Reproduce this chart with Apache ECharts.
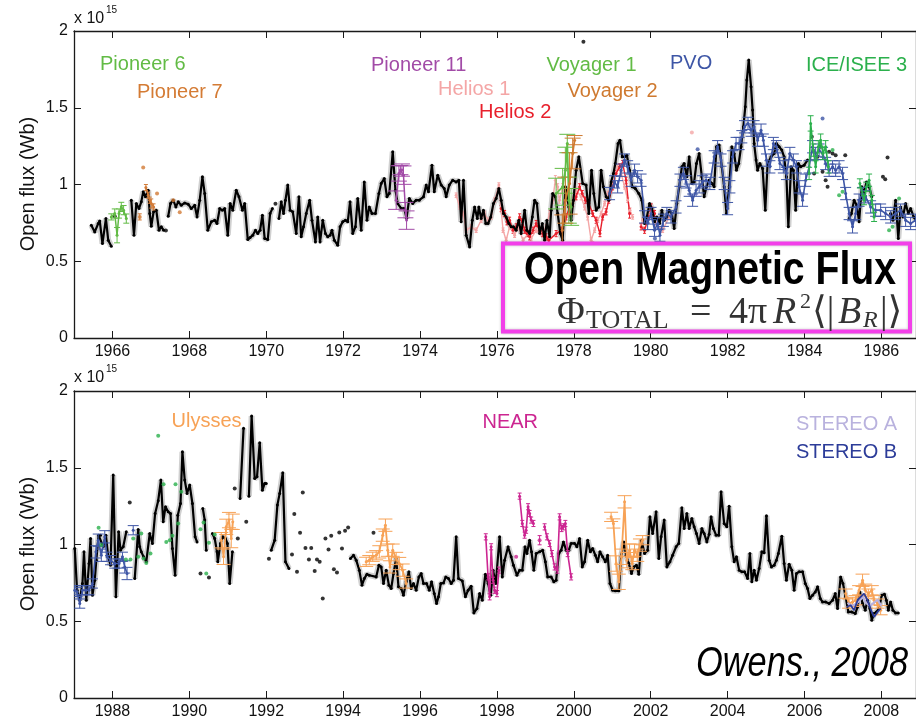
<!DOCTYPE html>
<html><head><meta charset="utf-8">
<script src="https://cdn.jsdelivr.net/npm/echarts@6/dist/echarts.min.js"></script>
<style>html,body{margin:0;padding:0;background:#fff}#c{width:916px;height:720px}</style>
</head><body><div id="c"></div>
<script>
// ---------- tick labels ----------
const xTicksTop = [1966,1968,1970,1972,1974,1976,1978,1980,1982,1984,1986];
const xTicksBottom = [1988,1990,1992,1994,1996,1998,2000,2002,2004,2006,2008];
const yTickValues = [0,0.5,1,1.5,2];

// ---------- top panel (1965-1987), units of 1e15 Wb ----------
const blackTop = [
[1965.45,0.735],[1965.54,0.691],[1965.63,0.746],[1965.67,0.763],[1965.74,0.615],[1965.83,0.778],[1965.89,0.637],[1965.97,0.598],
[1966.2,null],
[1966.49,0.898],[1966.56,0.67],[1966.62,0.876],[1966.69,0.843],[1966.75,0.887],[1966.80,0.952],[1966.86,0.92],[1966.93,0.963],[1966.97,0.811],[1967.01,0.728],[1967.07,0.822],[1967.14,0.833],[1967.21,0.702],[1967.27,0.724],[1967.33,0.702],
[1967.40,null],
[1967.45,0.793],[1967.51,0.876],[1967.58,0.898],[1967.65,0.854],[1967.71,0.887],[1967.79,0.865],[1967.88,0.88],[1967.97,0.872],[1968.05,0.843],[1968.14,0.865],[1968.20,0.789],[1968.27,0.898],[1968.34,1.05],[1968.40,0.941],[1968.48,0.702],[1968.57,0.757],[1968.66,0.767],[1968.72,0.746],[1968.79,0.843],[1968.86,0.833],[1968.92,0.843],[1969.00,0.67],[1969.06,0.876],[1969.13,0.833],[1969.22,0.963],[1969.29,0.92],[1969.38,0.833],[1969.44,0.876],[1969.52,0.641],[1969.58,0.654],[1969.65,0.67],[1969.72,0.702],[1969.78,0.68],[1969.84,0.702],[1969.90,0.8],[1969.96,0.648],[1970.04,0.641],[1970.10,0.811],[1970.16,0.843],
[1970.22,null],
[1970.33,0.778],[1970.39,0.887],[1970.45,0.811],[1970.50,0.898],[1970.56,0.996],[1970.62,0.833],[1970.69,0.822],[1970.78,0.68],[1970.85,0.92],[1970.91,0.659],[1970.97,0.724],[1971.04,0.811],[1971.13,0.898],[1971.19,0.767],[1971.28,0.626],[1971.34,0.789],[1971.40,0.626],[1971.47,0.767],[1971.54,0.68],[1971.60,0.659],[1971.66,0.67],[1971.71,0.702],[1971.77,0.637],[1971.86,0.604],[1971.92,0.724],[1971.99,0.757],[1972.06,0.767],[1972.12,0.757],[1972.18,0.887],[1972.25,0.68],[1972.32,0.724],[1972.38,0.909],[1972.47,0.702],[1972.55,1.017],[1972.62,0.767],[1972.68,0.854],[1972.75,0.811],[1972.84,0.811],[1972.93,0.941],[1972.99,1.007],[1973.07,1.039],[1973.14,0.92],[1973.20,0.941],[1973.29,1.213],
[1973.36,0.963],[1973.42,0.876],[1973.51,0.844],[1973.59,0.844],[1973.65,0.78],[1973.72,0.909],[1973.81,0.877],[1973.90,0.898],[1973.98,0.898],[1974.09,0.92],[1974.16,0.996],[1974.22,0.952],[1974.31,1.126],[1974.37,0.952],[1974.46,1.061],[1974.55,0.996],[1974.63,0.974],[1974.68,0.92],[1974.76,0.996],[1974.85,1.028],[1974.94,1.017],[1975.01,1.028],
[1975.07,0.757],[1975.13,1.028],[1975.20,0.67],[1975.29,0.593],[1975.36,0.767],[1975.42,0.854],[1975.49,0.778],[1975.53,0.854],[1975.59,0.778],[1975.65,0.833],[1975.71,0.746],[1975.77,0.746],[1975.84,0.789],[1975.91,0.876],[1975.98,0.909],[1976.05,0.974],[1976.11,0.898],[1976.17,0.811],[1976.24,0.789],[1976.31,0.746],[1976.37,0.724],[1976.43,0.724],[1976.50,0.702],[1976.57,0.767],[1976.63,0.68],[1976.72,0.833],[1976.78,0.702],[1976.85,0.68],[1976.92,0.789],[1976.98,0.898],[1977.04,0.876],[1977.11,0.68],[1977.18,0.746],[1977.24,0.637],[1977.30,0.767],[1977.37,0.659],[1977.41,0.833],[1977.45,0.941],[1977.52,0.92],[1977.58,0.811],[1977.65,0.68],[1977.71,0.637],[1977.78,0.985],[1977.87,0.854],[1977.93,0.767],[1977.99,0.898],[1978.06,1.093],[1978.13,1.18],[1978.23,1.007],[1978.32,0.996],[1978.39,0.811],[1978.46,1.093],[1978.52,0.941],[1978.58,0.833],[1978.65,0.854],[1978.71,1.093],[1978.77,0.985],[1978.84,0.92],[1978.91,0.898],[1978.97,1.017],[1979.03,1.072],[1979.08,1.137],[1979.15,1.267],[1979.20,1.289],[1979.26,1.18],[1979.32,1.18],[1979.38,1.191],[1979.45,1.093],[1979.52,0.985],[1979.60,0.974],[1979.69,0.941],[1979.77,0.898],[1979.84,0.746],[1979.90,0.789],[1979.97,0.876],[1980.03,0.843],[1980.10,0.757],[1980.16,0.789],[1980.23,0.746],[1980.29,0.833],[1980.35,0.767],[1980.42,0.789],[1980.48,0.833],[1980.55,0.811],[1980.61,0.713],[1980.68,0.876],[1980.74,0.985],[1980.81,1.115],[1980.87,1.137],[1980.94,1.05],[1981.00,1.18],[1981.07,1.007],[1981.13,1.017],[1981.19,1.137],[1981.26,1.202],[1981.33,1.05],[1981.39,0.92],[1981.45,0.985],[1981.52,1.028],[1981.59,1.007],[1981.65,0.985],[1981.71,1.246],[1981.78,1.257],[1981.85,1.115],[1981.91,0.985],[1981.97,0.811],[1982.04,0.985],[1982.11,1.246],[1982.17,1.202],[1982.23,1.093],[1982.29,1.137],[1982.35,1.246],[1982.41,1.376],[1982.46,1.507],[1982.50,1.68],[1982.55,1.811],[1982.61,1.637],[1982.65,1.485],[1982.69,1.267],[1982.74,1.159],[1982.78,1.093],[1982.84,1.137],[1982.91,1.104],[1982.98,0.833],[1983.04,1.137],[1983.13,1.18],[1983.21,1.202],[1983.27,1.267],[1983.34,1.246],[1983.41,1.224],[1983.47,1.18],[1983.53,1.05],[1983.58,0.724],[1983.65,1.115],[1983.71,1.093],[1983.77,0.833],[1983.84,1.137],[1983.90,1.115],[1983.99,1.126],[1984.08,1.159],
[1984.12,null],
[1985.16,0.778],[1985.22,0.811],[1985.29,0.898],[1985.36,0.865],[1985.42,0.757],[1985.49,0.985],[1985.55,0.941],[1985.61,1.017],[1985.68,0.985],[1985.75,0.92],
[1985.9,null],
[1986.24,0.811],[1986.30,0.767],[1986.37,0.898],[1986.44,0.648],[1986.50,0.854],[1986.56,0.789],[1986.63,0.876],[1986.70,0.811],[1986.76,0.843],[1986.84,0.789],[1986.89,0.767]
];
const blackDotsTop = [
[1966.06,0.793],[1967.39,0.70],[1970.24,0.875],[1978.25,1.93],[1984.19,1.311],[1984.25,1.072],[1984.34,1.18],[1984.42,1.246],[1984.47,1.083],[1984.55,1.028],[1984.60,0.985],[1984.64,1.213],[1984.73,1.202],[1984.81,1.191],[1985.06,1.191],[1986.04,1.05],[1986.10,1.035],[1986.16,1.176]
];
// [year, value, error]
const pioneer6 = [[1965.97,0.789,0.02],[1966.06,0.811,0.03],[1966.12,0.67,0.05],[1966.17,0.811,0.03],[1966.23,0.854,0.03],[1966.29,0.833,0.03],[1966.36,0.778,0.03]];
const pioneer7Line = [[1966.87,0.98,0.02],[1966.93,0.93,0.02],[1966.97,0.898,0.02],[1967.01,0.876,0.03],[1967.07,0.854,0.02]];
const pioneer7Dots = [[1966.71,0.789,0.02],[1966.80,1.111,0],[1967.16,0.941,0],[1967.58,0.898,0],[1967.75,0.82,0]];
const pioneer11 = [[1973.38,0.898,0.06],[1973.45,1.072,0.05],[1973.49,1.094,0.03],[1973.53,1.094,0.04],[1973.57,1.061,0.06],[1973.62,0.833,0.05],[1973.65,0.768,0.06]];
const helios1 = [[1974.94,0.93,0.015],[1975.03,0.854,0.015],[1975.12,0.811,0.015],[1975.20,0.702,0.015],[1975.33,0.724,0.015],[1975.46,0.702,0.015],[1975.59,0.767,0.015],[1975.68,0.811,0.015],[1975.77,0.767,0.015],[1975.85,0.789,0.015],[1975.94,0.898,0.015],[1976.05,0.996,0.015],[1976.16,0.702,0.015],[1976.24,0.637,0.015],[1976.33,0.724,0.015],[1976.46,0.67,0.015],[1976.55,0.724,0.015],[1976.68,0.637,0.015],[1976.81,0.68,0.015],[1976.89,0.648,0.015],[1977.02,0.702,0.015],[1977.15,0.68,0.015],[1977.28,0.724,0.015],[1977.37,0.811,0.02],[1977.45,0.898,0.02],[1977.52,1.028,0.03],[1977.58,0.985,0.02],[1977.63,0.898,0.02],[1977.71,0.985,0.02],[1977.80,0.898,0.02],[1977.89,0.811,0.02],[1977.97,0.898,0.02],[1978.06,0.963,0.02],[1978.19,0.92,0.02],[1978.28,0.854,0.02],[1978.36,0.789,0.02],[1978.45,0.637,0.015],[1978.54,0.702,0.015],[1978.62,0.767,0.015],[1978.71,0.811,0.015],[1978.80,0.876,0.015],[1978.88,0.941,0.015],[1978.97,0.985,0.015],[1979.06,1.05,0.015],[1979.14,1.115,0.015],[1979.23,1.072,0.015],[1979.32,0.985,0.015],[1979.40,0.898,0.015],[1979.46,0.833,0.015],[1979.53,0.789,0.015],
[1979.65,null,0],
[1979.79,0.767,0.015],[1979.97,0.811,0.015],[1980.14,0.746,0.015],[1980.31,0.702,0.015],[1980.48,0.789,0.015]];
const helios1Dots = [[1981.07,1.339,0],[1978.49,0.62,0]];
const helios2 = [[1976.11,0.843,0.02],[1976.20,0.811,0.02],[1976.26,0.757,0.02],[1976.33,0.767,0.02],[1976.42,0.702,0.02],[1976.50,0.724,0.02],[1976.59,0.789,0.02],[1976.66,0.757,0.02],[1976.72,0.702,0.02],[1976.78,0.68,0.02],[1976.85,0.659,0.02],[1976.94,0.702,0.02],[1977.02,0.746,0.02],[1977.11,0.702,0.02],[1977.19,0.68,0.02],[1977.28,0.659,0.02],[1977.35,0.637,0.02],[1977.54,0.68,0.02],[1977.67,0.702,0.02],[1977.80,0.789,0.02],[1977.89,0.854,0.02],[1977.97,0.876,0.02],[1978.06,0.92,0.02],[1978.15,0.985,0.02],[1978.22,0.941,0.02],[1978.30,0.898,0.02],[1978.39,0.876,0.02],[1978.49,0.811,0.02],[1978.58,0.767,0.02],[1978.68,0.68,0.02],[1978.75,0.789,0.02],[1978.84,0.822,0.02],[1978.91,0.898,0.02],[1979.01,0.985,0.02],[1979.10,1.072,0.02],[1979.19,1.115,0.02],[1979.27,1.137,0.02],[1979.36,1.028,0.02],[1979.45,0.811,0.03],
[1979.6,null,0],
[1979.75,0.724,0.02],[1979.84,0.702,0.02],[1979.92,0.767,0.02],[1980.01,0.854,0.02],[1980.10,0.811,0.02]];
const voyager1 = [[1977.54,0.941,0.1],[1977.71,0.985,0.12],[1977.78,1.093,0.15],[1977.83,1.267,0.06],[1977.87,0.898,0.15],[1977.93,0.854,0.12]];
const voyager2 = [[1977.70,0.702,0.1],[1977.78,0.898,0.15],[1977.89,1.007,0.2],[1977.97,1.202,0.1],[1978.02,1.289,0.03]];
const pvoTop = [[1978.93,0.941,0.04],[1979.06,1.017,0.04],[1979.14,0.985,0.04],[1979.23,1.093,0.04],[1979.32,1.159,0.04],[1979.40,1.115,0.04],[1979.49,1.028,0.04],[1979.58,1.093,0.04],[1979.66,1.05,0.04],[1979.75,1.028,0.04],[1979.84,0.789,0.04],[1979.92,0.746,0.04],[1980.01,0.811,0.04],[1980.10,0.702,0.04],[1980.18,0.746,0.04],[1980.24,0.67,0.04],[1980.33,0.767,0.04],[1980.42,0.811,0.04],[1980.53,0.789,0.04],[1980.66,0.854,0.04],[1980.76,1.028,0.04],[1980.85,1.072,0.04],[1980.92,1.017,0.04],[1981.00,0.963,0.04],[1981.09,0.898,0.04],[1981.18,0.963,0.04],[1981.26,0.985,0.04],[1981.35,1.017,0.04],[1981.44,1.028,0.04],[1981.54,1.007,0.04],[1981.65,1.18,0.04],[1981.74,1.246,0.04],[1981.83,1.159,0.04],[1981.91,1.007,0.04],[1982.00,0.843,0.04],[1982.06,0.985,0.04],[1982.13,1.18,0.04],[1982.22,1.267,0.04],[1982.30,1.267,0.04],[1982.37,1.311,0.04],[1982.44,1.376,0.04],[1982.53,1.398,0.04],[1982.61,1.354,0.04],[1982.69,1.376,0.04],[1982.78,1.289,0.04],[1982.87,1.354,0.04],[1982.93,1.289,0.04],[1983.01,1.159,0.04],[1983.10,1.115,0.04],[1983.19,1.267,0.04],[1983.27,1.246,0.04],[1983.36,1.137,0.04],[1983.45,1.115,0.04],[1983.53,1.072,0.04],[1983.62,1.202,0.04],[1983.71,1.159,0.04],[1983.79,1.115,0.04],[1983.86,0.985,0.04],[1983.95,0.898,0.04],[1984.03,1.028,0.04],[1984.12,1.115,0.04],[1984.21,1.246,0.04],[1984.29,1.202,0.04],[1984.38,1.224,0.04],[1984.47,1.202,0.04],[1984.55,1.137,0.04],[1984.64,1.093,0.04],[1984.73,1.115,0.04],[1984.81,1.093,0.04],[1984.90,1.115,0.04],[1984.99,1.072,0.04],[1985.07,0.941,0.04],[1985.16,0.811,0.04],[1985.25,0.724,0.04],[1985.33,0.811,0.04],[1985.42,0.898,0.04],[1985.51,0.941,0.04],[1985.59,0.92,0.04],[1985.72,0.854,0.04],[1985.85,0.833,0.04],[1985.98,0.833,0.04],[1986.11,0.811,0.04],[1986.24,0.789,0.04],[1986.37,0.811,0.04],[1986.50,0.833,0.04],[1986.63,0.767,0.04],[1986.76,0.746,0.04],[1986.89,0.767,0.04]];
const pvoDotsTop = [[1981.22,1.23,0],[1984.47,1.43,0],[1980.11,0.648,0]];
const iceTop = [[1984.12,1.072,0.04],[1984.16,1.398,0.05],[1984.23,1.224,0.04],[1984.29,1.115,0.04],[1984.36,1.246,0.04],[1984.42,1.289,0.04],[1984.48,1.202,0.04],[1984.55,1.246,0.04],[1984.62,1.115,0.04],
[1984.7,null,0],
[1985.44,1.007,0.03],[1985.55,0.898,0.03],[1985.61,0.985,0.03],[1985.68,1.028,0.04],[1985.75,0.898,0.03],[1985.81,0.789,0.03]];
const iceDotsTop = [[1984.73,1.224],[1984.90,0.93],[1984.99,0.952],[1986.20,0.702],[1986.29,0.724],[1986.46,0.909]];

// ---------- bottom panel (1987-2009) ----------
const blackBottom = [
[1987.02,0.974],[1987.08,0.702],[1987.15,0.637],[1987.22,0.746],[1987.26,0.952],[1987.32,0.637],[1987.39,0.876],[1987.43,1.039],[1987.48,0.67],[1987.54,0.767],[1987.58,0.898],[1987.64,1.061],[1987.69,1.061],[1987.76,0.985],[1987.83,1.061],[1987.89,0.92],[1987.95,0.865],[1988.02,1.452],[1988.09,0.659],[1988.16,1.083],[1988.21,0.963],[1988.28,0.985],[1988.36,1.083],
[1988.45,null],
[1988.58,0.778],[1988.67,1.098],[1988.71,0.985],[1988.75,0.952],[1988.81,0.92],[1988.88,0.887],[1988.97,1.072],[1989.04,1.007],[1989.11,1.202],[1989.19,1.285],[1989.26,1.42],[1989.32,1.148],[1989.38,1.246],[1989.45,1.213],[1989.51,1.202],[1989.56,0.974],[1989.63,0.8],[1989.70,1.191],[1989.77,1.267],[1989.82,1.604],[1989.88,1.42],[1989.94,1.333],[1990.01,1.387],[1990.08,1.267],[1990.15,1.05],[1990.20,1.017],
[1990.27,null],
[1990.35,1.235],[1990.40,1.159],[1990.44,0.963],
[1990.5,null],
[1990.60,1.072],[1990.66,1.039],[1990.72,0.952],[1990.74,0.887],[1990.81,1.007],[1990.87,1.05],[1990.94,1.039],[1990.99,1.007],[1991.05,0.746],[1991.12,0.952],
[1991.2,null],
[1991.32,1.3],[1991.41,1.757],
[1991.48,null],
[1991.55,1.315],[1991.62,1.837],[1991.70,1.43],[1991.76,1.441],[1991.83,1.663],[1991.90,1.354],[1991.96,1.398],[1992.00,1.398],
[1992.07,null],
[1992.13,0.963],[1992.22,1.028],[1992.29,1.257],[1992.35,1.333],[1992.43,1.467],[1992.50,0.887],[1992.59,0.843],
[1992.63,null],
[1994.19,0.909],[1994.27,0.93],[1994.34,0.898],[1994.42,0.833],[1994.49,0.735],[1994.55,0.778],[1994.62,0.807],[1994.68,0.8],[1994.86,0.789],[1994.93,0.865],[1994.99,0.854],[1995.05,0.746],[1995.12,0.833],[1995.19,0.735],[1995.25,0.713],[1995.31,0.811],[1995.38,0.909],[1995.44,0.724],[1995.51,0.713],[1995.57,0.67],[1995.64,0.757],[1995.71,0.822],[1995.77,0.713],[1995.83,0.746],[1995.90,0.702],[1995.97,0.789],[1996.03,0.811],[1996.09,0.746],[1996.17,0.746],[1996.24,0.702],[1996.30,0.757],[1996.37,0.68],[1996.43,0.615],[1996.48,0.659],[1996.54,0.746],[1996.61,0.75],[1996.67,0.789],[1996.74,0.778],[1996.81,0.746],[1996.87,0.767],[1996.94,1.05],[1997.00,0.778],
[1997.10,0.763],[1997.18,0.659],[1997.25,0.702],[1997.33,0.728],[1997.40,0.554],[1997.48,0.583],[1997.55,0.68],[1997.62,0.637],[1997.70,0.807],[1997.77,0.746],[1997.84,0.67],[1997.90,0.833],[1997.97,0.746],[1998.07,1.05],[1998.14,0.789],[1998.20,0.898],[1998.29,0.985],[1998.37,0.92],[1998.43,0.865],[1998.52,0.8],[1998.59,0.833],[1998.66,0.833],[1998.73,0.985],[1998.78,0.941],[1998.85,1.028],[1998.90,0.952],[1998.96,0.833],[1999.02,0.941],[1999.11,0.952],[1999.19,0.963],[1999.26,0.887],[1999.32,0.789],[1999.41,0.789],[1999.48,0.757],[1999.54,0.767],[1999.61,0.941],[1999.67,0.963],[1999.73,1.017],[1999.80,0.963],[1999.87,0.963],[1999.93,1.007],[2000.02,1.007],[2000.08,0.985],[2000.15,1.039],[2000.22,0.854],[2000.28,0.887],[2000.36,1.028],[2000.43,0.952],[2000.49,0.974],[2000.56,0.93],[2000.62,0.887],[2000.68,0.952],[2000.75,0.92],[2000.82,0.887],[2000.88,0.93],[2000.94,0.746],[2001.01,0.702],[2001.08,0.698],[2001.17,0.698],[2001.23,0.92],[2001.30,1.017],[2001.36,0.93],[2001.43,0.876],[2001.50,0.811],[2001.56,0.854],[2001.63,0.865],[2001.69,0.807],[2001.76,1.028],[2001.84,0.941],[2001.92,0.963],[2001.98,1.18],[2002.05,1.072],[2002.14,1.213],[2002.21,0.909],[2002.27,1.05],[2002.35,1.159],[2002.42,0.854],[2002.50,0.887],[2002.57,0.93],[2002.66,0.985],[2002.73,1.007],[2002.81,1.239],[2002.87,1.104],[2002.94,1.202],[2003.00,1.104],[2003.07,1.17],[2003.13,1.115],[2003.19,1.072],[2003.26,1.007],[2003.33,1.104],[2003.39,1.072],[2003.46,1.017],[2003.52,1.067],[2003.57,1.18],[2003.63,1.104],[2003.70,1.061],[2003.77,1.061],[2003.83,1.343],[2003.91,1.137],[2003.98,1.115],[2004.04,1.25],[2004.11,0.985],[2004.17,0.887],[2004.23,0.92],[2004.30,0.833],[2004.37,0.822],[2004.44,0.822],[2004.52,0.778],[2004.58,0.941],[2004.63,0.757],[2004.69,0.833],[2004.75,0.767],[2004.82,0.843],[2004.89,0.952],[2004.95,0.946],[2005.01,1.187],[2005.08,0.898],[2005.14,0.854],[2005.21,0.865],[2005.27,0.898],[2005.32,0.941],[2005.41,1.054],[2005.47,0.876],[2005.53,0.767],[2005.60,0.872],[2005.67,0.833],[2005.73,0.702],[2005.79,0.811],[2005.86,0.822],[2005.95,0.822],[2006.02,0.746],[2006.08,0.713],[2006.14,0.648],[2006.21,0.67],[2006.28,0.691],[2006.34,0.724],[2006.41,0.648],[2006.47,0.626],[2006.55,0.626],[2006.64,0.615],[2006.73,0.637],[2006.80,0.68],[2006.86,0.583],[2006.94,0.789],[2007.00,0.746],[2007.07,0.659],[2007.14,0.561],[2007.23,0.561],[2007.32,0.55],[2007.38,0.593],[2007.44,0.691],[2007.51,0.615],[2007.58,0.572],[2007.64,0.637],[2007.70,0.583],[2007.75,0.507],[2007.81,0.55],[2007.87,0.561],[2007.94,0.583],[2008.01,0.67],[2008.08,0.676],[2008.13,0.637],[2008.18,0.572],[2008.24,0.626],[2008.30,0.572],[2008.37,0.554],[2008.44,0.554]
];
const blackDotsBottom = [
[1988.45,1.274],[1990.29,0.811],[1990.51,0.785],[1991.18,1.365],[1991.26,1.039],[1991.48,1.148],[1992.07,0.907],[1992.67,0.935],[1992.73,1.198],[1992.80,0.822],[1992.88,1.076],[1992.95,1.339],[1993.02,0.978],[1993.11,0.902],[1993.17,0.978],[1993.26,0.828],[1993.32,0.902],[1993.39,0.887],[1993.47,0.648],[1993.54,1.039],[1993.62,0.967],[1993.69,1.057],[1993.76,0.839],[1993.84,0.817],[1993.90,1.078],[1993.97,0.974],[1994.05,1.089],[1994.13,1.111],[1994.79,1.076]
];
const pvoBottom = [[1987.02,0.702,0.03],[1987.08,0.691,0.03],[1987.15,0.615,0.03],[1987.22,0.702,0.03],[1987.31,0.702,0.03],[1987.39,0.702,0.03],[1987.48,0.746,0.03],[1987.57,0.952,0.04],[1987.63,1.028,0.04],[1987.71,0.93,0.04],[1987.80,1.05,0.04],[1987.86,0.92,0.03],[1987.95,0.898,0.03],[1988.06,0.876,0.03],[1988.17,0.876,0.03],[1988.26,0.92,0.03],[1988.32,0.854,0.04],[1988.38,0.811,0.04],
[1988.45,null,0],
[1988.54,1.093,0.03]];
const iceDotsBottom = [[1987.64,1.109],[1987.71,0.996],[1988.35,0.902],[1988.47,0.902],[1988.54,1.039],[1988.67,0.92],[1988.75,1.072],[1988.81,0.909],[1988.88,0.88],[1988.99,0.941],[1989.19,1.709],[1989.33,1.393],[1989.40,1.017],[1989.49,1.028],[1989.56,1.057],[1989.64,1.393],[1989.71,1.137],[1989.79,1.343],[1990.29,1.1],[1990.37,1.143],[1990.44,0.811],[1990.51,1.011],[1990.66,1.065]];
const ulysses = [[1990.83,1.028,0.05],[1990.89,0.92,0.05],[1990.96,1.115,0.05],[1991.03,1.159,0.05],[1991.09,1.039,0.06],[1991.13,1.148,0.05],
[1992.0,null,0],
[1994.60,0.887,0.03],[1994.68,0.898,0.03],[1994.77,0.92,0.03],[1994.86,0.93,0.03],[1994.94,0.952,0.04],[1995.03,1.061,0.04],[1995.10,1.126,0.04],[1995.16,0.963,0.04],[1995.22,0.854,0.04],[1995.29,0.963,0.04],[1995.38,0.909,0.04],[1995.46,0.876,0.04],[1995.55,0.833,0.04],[1995.64,0.746,0.03],
[1998.0,null,0],
[2000.97,1.18,0.03],[2001.03,1.137,0.03],[2001.10,0.876,0.05],[2001.17,0.757,0.05],[2001.24,0.92,0.05],[2001.32,1.278,0.04],[2001.38,0.898,0.05],[2001.45,0.963,0.04],[2001.52,0.876,0.04],[2001.58,0.963,0.04],[2001.65,0.93,0.04],[2001.72,0.996,0.04],[2001.79,1.028,0.03],
[2004.0,null,0],
[2007.07,0.68,0.03],[2007.16,0.615,0.03],[2007.25,0.626,0.03],[2007.33,0.637,0.03],[2007.42,0.702,0.03],[2007.51,0.767,0.04],[2007.58,0.702,0.04],[2007.66,0.68,0.03],[2007.75,0.702,0.03],[2007.81,0.637,0.03],[2007.90,0.615,0.03],[2007.98,0.572,0.03]];
const near = [[1997.71,1.05,0.02],[1997.77,0.789,0.02],[1997.81,0.659,0.02],[1997.85,0.985,0.02],[1997.90,0.767,0.02],[1997.94,0.702,0.02],[1998.00,0.68,0.02],[1998.05,0.833,0.02],
[1998.3,null,0],
[1998.59,1.315,0.02],[1998.66,1.137,0.02],[1998.72,1.061,0.02],[1998.76,1.093,0.02],[1998.81,1.246,0.02],[1998.85,1.202,0.02],[1998.89,1.159,0.02],[1998.95,1.137,0.02],
[1999.05,null,0],
[1999.24,1.115,0.02],[1999.30,1.05,0.02],[1999.37,1.007,0.02],[1999.43,0.941,0.02],[1999.50,0.854,0.02],[1999.57,0.833,0.02],[1999.63,1.18,0.02],[1999.68,1.104,0.02],[1999.73,1.115,0.02],[1999.78,1.137,0.02],[1999.84,0.941,0.02],[1999.93,0.789,0.02]];
const nearDots = [[1998.50,0.92,0],[1999.11,1.028,0.03]];
const stereoA = [[2007.12,0.62],[2007.22,0.60],[2007.32,0.61],[2007.42,0.63],[2007.52,0.66],[2007.60,0.62],[2007.70,0.60],[2007.80,0.62],[2007.90,0.64],[2008.00,0.60]];
const stereoB = [[2007.09,0.593],[2007.20,0.604],[2007.29,0.572],[2007.38,0.637],[2007.46,0.659],[2007.55,0.68],[2007.64,0.637],[2007.73,0.572],[2007.81,0.528],[2007.90,0.561],[2007.98,0.583]];

// ---------- build chart ----------
const FONT = "'Liberation Sans', Arial, Helvetica, sans-serif";
const AX = '#1a1a1a';
function prep(a){ return a.map(d => [d[0], d[1] == null ? '-' : d[1]]); }

function lineS(data, color, width, xi, symSize, z){
  return {type:'line', xAxisIndex:xi, yAxisIndex:xi, data:prep(data), showSymbol:symSize>0,
    symbol:'circle', symbolSize:symSize, itemStyle:{color:color}, connectNulls:false,
    lineStyle:{color:color, width:width}, z:z||3, animation:false, silent:true};
}
function haloS(data, xi){
  return {type:'line', xAxisIndex:xi, yAxisIndex:xi, data:prep(data), showSymbol:false, connectNulls:false,
    lineStyle:{color:'rgba(150,150,150,0.45)', width:6}, z:1, animation:false, silent:true};
}
function dotS(data, color, size, xi, z){
  return {type:'scatter', xAxisIndex:xi, yAxisIndex:xi, data:data.map(d=>[d[0],d[1]]),
    symbol:'circle', symbolSize:size, itemStyle:{color:color}, z:z||4, animation:false, silent:true};
}
function errS(data, color, cap, xi, lw, z){
  return {type:'custom', xAxisIndex:xi, yAxisIndex:xi, clip:true,
    data:data.filter(d => d[1] != null && d[2] > 0),
    encode:{x:0, y:1}, z:z||3, animation:false, silent:true,
    renderItem:function(params, api){
      const x = api.value(0), v = api.value(1), e = api.value(2);
      const p1 = api.coord([x, v+e]), p2 = api.coord([x, v-e]);
      const st = {stroke:color, lineWidth:lw||1};
      return {type:'group', children:[
        {type:'line', shape:{x1:p1[0],y1:p1[1],x2:p2[0],y2:p2[1]}, style:st},
        {type:'line', shape:{x1:p1[0]-cap,y1:p1[1],x2:p1[0]+cap,y2:p1[1]}, style:st},
        {type:'line', shape:{x1:p2[0]-cap,y1:p2[1],x2:p2[0]+cap,y2:p2[1]}, style:st}
      ]};
    }};
}

const C = {
  p6:'#62bb45', p7:'#d27a36', p11:'#a24ba7', h1:'#f4a6a6', h2:'#e8202c',
  v1:'#62bb45', v2:'#cf7a30', pvo:'#3e56a6', ice:'#2bb04c',
  uly:'#f7a256', near:'#cc2591', sa:'#b9b2de', sb:'#2c3c99'
};

function xAx(gi, min, max, ticks, pos, labels){
  return {type:'value', gridIndex:gi, min:min, max:max, position:pos,
    axisLine:{show:true, onZero:false, lineStyle:{color:AX, width:1.3}},
    axisTick:{show:true, inside:true, length:7, customValues:ticks, lineStyle:{color:AX, width:1}},
    axisLabel:{show:labels, customValues:ticks, color:'#111', fontSize:16, fontFamily:FONT, margin:6,
      formatter: v => String(Math.round(v))},
    splitLine:{show:false}};
}
function yAx(gi, pos, labels){
  return {type:'value', gridIndex:gi, min:0, max:2, interval:0.5, position:pos,
    axisLine:{show:true, lineStyle:{color:AX, width:1.3}},
    axisTick:{show:true, inside:true, length:7, lineStyle:{color:AX, width:1}},
    axisLabel:{show:labels, color:'#111', fontSize:16, fontFamily:FONT, margin:6,
      formatter: v => (yTickValues.indexOf(v) >= 0 ? String(v) : '')},
    splitLine:{show:false}};
}

function txt(text, x, y, color, font, align, rot){
  return {type:'text', x:x, y:y, rotation:rot||0, z:60,
    style:{text:text, fill:color, font:font, align:align||'left', verticalAlign:'middle'}};
}
// condensed text: scale horizontally so the text spans targetW pixels
const mctx = document.createElement('canvas').getContext('2d');
function narrowTxt(text, x, y, color, font, align, targetW){
  mctx.font = font;
  const w = mctx.measureText(text).width || targetW;
  const el = txt(text, x, y, color, font, align);
  el.scaleX = targetW / w;
  return el;
}

const series = [
  // top panel
  haloS(blackTop, 0),
  lineS(helios1, C.h1, 1.4, 0, 3, 2), errS(helios1, C.h1, 1.5, 0, 1, 2), dotS(helios1Dots, C.h1, 4, 0, 2),
  lineS(helios2, C.h2, 1.4, 0, 3, 2), errS(helios2, C.h2, 1.5, 0, 1, 2),
  lineS(blackTop, '#000', 2.2, 0, 3, 5), dotS(blackDotsTop, '#000', 4, 0, 5),
  lineS(pioneer6, C.p6, 1.5, 0, 3, 6), errS(pioneer6, C.p6, 3, 0, 1, 6),
  lineS(pioneer7Line, C.p7, 1.5, 0, 3, 6), errS(pioneer7Line, C.p7, 2, 0, 1, 6), dotS(pioneer7Dots, C.p7, 4, 0, 6), errS(pioneer7Dots, C.p7, 2, 0, 1, 6),
  lineS(pioneer11, C.p11, 1.5, 0, 3, 6), errS(pioneer11, C.p11, 8, 0, 1, 6),
  lineS(voyager1, C.v1, 1.8, 0, 3, 6), errS(voyager1, C.v1, 8, 0, 1, 6),
  lineS(voyager2, C.v2, 1.8, 0, 3, 6), errS(voyager2, C.v2, 8, 0, 1, 6),
  lineS(pvoTop, C.pvo, 1.6, 0, 3, 6), errS(pvoTop, C.pvo, 5.5, 0, 1, 6), dotS(pvoDotsTop, C.pvo, 4, 0, 6),
  lineS(iceTop, C.ice, 1.6, 0, 3, 7), errS(iceTop, C.ice, 3, 0, 1, 7), dotS(iceDotsTop, C.ice, 4, 0, 7),
  // bottom panel
  haloS(blackBottom, 2),
  lineS(blackBottom, '#000', 2.2, 2, 3, 5), dotS(blackDotsBottom, '#000', 4, 2, 5),
  lineS(pvoBottom, C.pvo, 1.6, 2, 3, 6), errS(pvoBottom, C.pvo, 5.5, 2, 1, 6),
  dotS(iceDotsBottom, C.ice, 4, 2, 6),
  lineS(ulysses, C.uly, 1.8, 2, 3, 6), errS(ulysses, C.uly, 7, 2, 1, 6),
  lineS(near, C.near, 1.6, 2, 3, 6), errS(near, C.near, 2, 2, 1, 6), dotS(nearDots, C.near, 4, 2, 6), errS(nearDots, C.near, 2, 2, 1, 6),
  lineS(stereoA, C.sa, 2.2, 2, 0, 7),
  lineS(stereoB, C.sb, 1.8, 2, 0, 8)
];

const SERIF = "'Liberation Serif', 'DejaVu Serif', Times, serif";
const graphic = [
  txt('x 10', 74, 19, '#111', '16px '+FONT), txt('15', 106, 10, '#111', '10px '+FONT),
  txt('x 10', 74, 378, '#111', '16px '+FONT), txt('15', 106, 369, '#111', '10px '+FONT),
  txt('Open flux (Wb)', 28, 184, '#111', '20px '+FONT, 'center', Math.PI/2),
  txt('Open flux (Wb)', 28, 544, '#111', '20px '+FONT, 'center', Math.PI/2),
  txt('Pioneer 6', 100, 64, C.p6, '20px '+FONT),
  txt('Pioneer 7', 137, 92.5, '#d47b34', '20px '+FONT),
  txt('Pioneer 11', 371, 65, C.p11, '20px '+FONT),
  txt('Helios 1', 438, 89.5, C.h1, '20px '+FONT),
  txt('Helios 2', 479, 112.5, C.h2, '20px '+FONT),
  txt('Voyager 1', 546.5, 65, C.v1, '20px '+FONT),
  txt('Voyager 2', 567.5, 91, C.v2, '20px '+FONT),
  txt('PVO', 670, 63.5, C.pvo, '20px '+FONT),
  txt('ICE/ISEE 3', 806, 65, C.ice, '20px '+FONT),
  txt('Ulysses', 171.5, 421, C.uly, '20px '+FONT),
  txt('NEAR', 482.5, 422.5, C.near, '20px '+FONT),
  txt('STEREO A', 796, 424, C.sa, '20px '+FONT),
  txt('STEREO B', 796, 452.5, C.sb, '20px '+FONT),
  {type:'rect', z:55, shape:{x:503, y:243.5, width:407, height:88},
    style:{fill:'#fff', stroke:'#f23fe9', lineWidth:4, shadowBlur:3, shadowColor:'rgba(0,0,0,0.25)'}},
  narrowTxt('Open Magnetic Flux', 524, 271, '#000', "bold 46px 'Liberation Sans', Arial, sans-serif", 'left', 372),
  txt('\u03A6', 557, 313, '#333', '38px '+SERIF),
  txt('TOTAL', 586, 321, '#333', '26px '+SERIF),
  txt('=', 690, 313, '#333', '38px '+SERIF),
  txt('4\u03C0', 729, 313, '#333', '38px '+SERIF),
  txt('R', 773, 313, '#333', 'italic 38px '+SERIF),
  txt('2', 800, 302, '#333', '22px '+SERIF),
  txt('\u27E8|', 812, 313, '#333', '38px '+SERIF),
  txt('B', 838, 313, '#333', 'italic 38px '+SERIF),
  txt('R', 863, 321, '#333', 'italic 24px '+SERIF),
  txt('|\u27E9', 880, 313, '#333', '38px '+SERIF),
  narrowTxt('Owens., 2008', 696, 664, '#000', "italic 42px 'Liberation Sans', Arial, sans-serif", 'left', 212)
];

const option = {
  animation:false,
  backgroundColor:'#fff',
  grid:[
    {left:74, top:31, width:842, height:307, containLabel:false},
    {left:74, top:391, width:842, height:307, containLabel:false}
  ],
  xAxis:[
    xAx(0, 1965, 1986.9, xTicksTop, 'bottom', true),
    xAx(0, 1965, 1986.9, xTicksTop, 'top', false),
    xAx(1, 1987, 2008.9, xTicksBottom, 'bottom', true),
    xAx(1, 1987, 2008.9, xTicksBottom, 'top', false)
  ],
  yAxis:[
    yAx(0, 'left', true), yAx(0, 'right', false),
    yAx(1, 'left', true), yAx(1, 'right', false)
  ],
  series: series,
  graphic: graphic
};
const chart = echarts.init(document.getElementById('c'), null, {renderer:'canvas'});
chart.setOption(option);
</script>
</body></html>
